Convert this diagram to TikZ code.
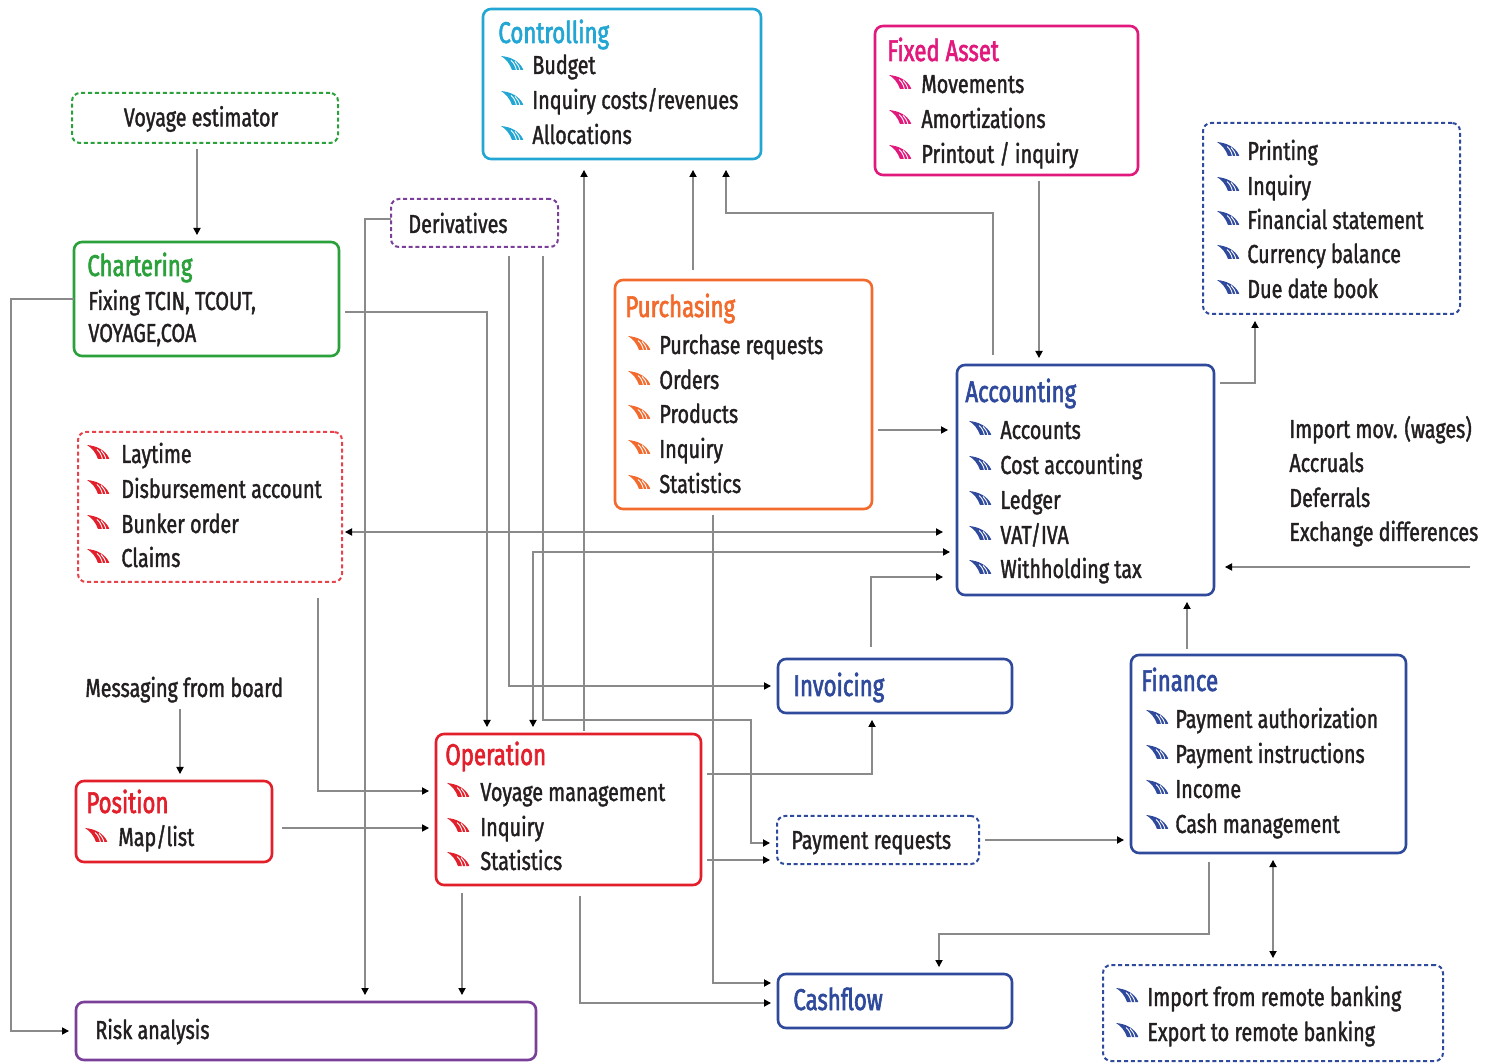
\documentclass[tikz,border=0pt]{standalone}
\usepackage{fontspec}
\setmainfont{Fira Sans}[FakeStretch=0.76, FakeBold=1.4]
\newfontfamily\ttlfont{Fira Sans}[FakeStretch=0.74, FakeBold=2]
\usetikzlibrary{arrows.meta,calc}
\definecolor{txt}{HTML}{231F20}
\definecolor{lineC}{HTML}{8A8A8A}
\definecolor{cyanC}{HTML}{22A6D3}
\definecolor{magC}{HTML}{E2197C}
\definecolor{blueC}{HTML}{2F4A9C}
\definecolor{orgC}{HTML}{F26A2C}
\definecolor{redC}{HTML}{E21F2A}
\definecolor{grnC}{HTML}{2AA13A}
\definecolor{purC}{HTML}{7A3F98}
\definecolor{lredC}{HTML}{E8434A}
\newcommand\mkbox[6]{\node[#6, minimum width={(#4-#2)*0.5pt}, minimum height={(#5-#3)*0.5pt}] (#1) at ({(#2+#4)/2},{(#3+#5)/2}) {};}
\tikzset{chev/.pic={
  \fill[pic actions] (-11,-7) .. controls (-1,-6) and (7,-2) .. (11,6)
     -- (11,7) -- (0,7) .. controls (-2,1) and (-6,-4) .. cycle;
  \draw[white, line width=0.45pt] (4.5,7.5) .. controls (3.5,3) and (2,0) .. (-1,-2.5);
  \draw[white, line width=0.45pt] (8,7.5) .. controls (7,3.5) and (5.5,1) .. (3,-1.5);
}}
\begin{document}
\begin{tikzpicture}[x=0.5pt,y=-0.5pt,
  box/.style={draw, fill=white, line width=1.3pt, rounded corners=4pt, inner sep=0pt, outer sep=0pt},
  dbox/.style={draw, fill=white, line width=1pt, rounded corners=4pt, dash pattern=on 2pt off 1.4pt, inner sep=0pt, outer sep=0pt},
  item/.style={anchor=base west, inner sep=0pt, font=\fontsize{13}{15}\selectfont, text=txt},
  ttl/.style={anchor=base west, inner sep=0pt, font=\ttlfont\fontsize{15}{18}\selectfont},
  conn/.style={draw=lineC, line width=0.6pt, -{Triangle[length=3.5pt,width=3.6pt,color=black]}, shorten >=3.5pt, shorten <=3pt},
  conn2/.style={draw=lineC, line width=0.6pt, {Triangle[length=3.5pt,width=3.6pt,color=black]}-{Triangle[length=3.5pt,width=3.6pt,color=black]}, shorten >=3.5pt, shorten <=3.5pt},
]
\useasboundingbox[fill=white] (0,0) rectangle (1495,1063);

% ---------- boxes ----------
\mkbox{ctrl}{483}{9}{761}{159}{box, draw=cyanC}
\mkbox{fixed}{875}{26}{1138}{175}{box, draw=magC}
\mkbox{voy}{72}{93}{338}{143}{dbox, draw=grnC}
\mkbox{prn}{1203}{123}{1460}{314}{dbox, draw=blueC}
\mkbox{deriv}{391}{199}{558}{247}{dbox, draw=purC}
\mkbox{chart}{74}{242}{339}{356}{box, draw=grnC}
\mkbox{purch}{615}{280}{872}{509}{box, draw=orgC}
\mkbox{acct}{957}{365}{1214}{595}{box, draw=blueC}
\mkbox{lay}{78}{432}{342}{582}{dbox, draw=lredC}
\mkbox{inv}{778}{659}{1012}{713}{box, draw=blueC}
\mkbox{fin}{1131}{655}{1406}{853}{box, draw=blueC}
\mkbox{pos}{76}{781}{272}{862}{box, draw=redC}
\mkbox{oper}{436}{734}{701}{885}{box, draw=redC}
\mkbox{payreq}{777}{816}{979}{864}{dbox, draw=blueC}
\mkbox{cash}{778}{974}{1012}{1028}{box, draw=blueC}
\mkbox{bank}{1103}{965}{1443}{1061}{dbox, draw=blueC}
\mkbox{risk}{76}{1002}{536}{1060}{box, draw=purC}

% ---------- texts ----------
\node[ttl, text=cyanC] (ctrlT) at (498,43) {Controlling};
\foreach \t/\y [count=\i] in {{Budget}/65, {Inquiry costs/revenues}/100, {Allocations}/135}{
  \pic[fill=cyanC] at (512,\y-2) {chev};
  \node[item] (ctrl\i) at (532,\y+9) {\t};}

\node[ttl, text=magC] (fixedT) at (887,61) {Fixed Asset};
\foreach \t/\y [count=\i] in {{Movements}/84, {Amortizations}/119, {Printout / inquiry}/154}{
  \pic[fill=magC] at (900,\y-2) {chev};
  \node[item] (fixed\i) at (921,\y+9) {\t};}

\node[item, anchor=center] (voyT) at (201,119) {Voyage estimator};

\foreach \t/\y [count=\i] in {{Printing}/151, {Inquiry}/186, {Financial statement}/220, {Currency balance}/254, {Due date book}/289}{
  \pic[fill=blueC] at (1228,\y-2) {chev};
  \node[item] (prn\i) at (1247,\y+9) {\t};}

\node[item] (derivT) at (408,233) {Derivatives};

\node[ttl, text=grnC] (chartT) at (87,276) {Chartering};
\node[item] (chart1) at (88,310) {Fixing TCIN, TCOUT,};
\node[item] (chart2) at (88,342) {VOYAGE,COA};

\node[ttl, text=orgC] (purchT) at (625,317) {Purchasing};
\foreach \t/\y [count=\i] in {{Purchase requests}/345, {Orders}/380, {Products}/414, {Inquiry}/449, {Statistics}/484}{
  \pic[fill=orgC] at (639,\y-2) {chev};
  \node[item] (purch\i) at (659,\y+9) {\t};}

\node[ttl, text=blueC] (acctT) at (965,402) {Accounting};
\foreach \t/\y [count=\i] in {{Accounts}/430, {Cost accounting}/465, {Ledger}/500, {VAT/IVA}/535, {Withholding tax}/569}{
  \pic[fill=blueC] at (980,\y-2) {chev};
  \node[item] (acct\i) at (1000,\y+9) {\t};}

\foreach \t/\y [count=\i] in {{Laytime}/454, {Disbursement account}/489, {Bunker order}/524, {Claims}/558}{
  \pic[fill=redC] at (98,\y-2) {chev};
  \node[item] (lay\i) at (121,\y+9) {\t};}

\foreach \t/\y [count=\i] in {{Import mov. (wages)}/429, {Accruals}/463, {Deferrals}/498, {Exchange differences}/532}{
  \node[item] (imp\i) at (1289,\y+9) {\t};}

\node[ttl, text=blueC] (invT) at (793,696) {Invoicing};

\node[ttl, text=blueC] (finT) at (1141,691) {Finance};
\foreach \t/\y [count=\i] in {{Payment authorization}/719, {Payment instructions}/754, {Income}/789, {Cash management}/824}{
  \pic[fill=blueC] at (1157,\y-2) {chev};
  \node[item] (fin\i) at (1175,\y+9) {\t};}

\node[item] (msg) at (85,697) {Messaging from board};

\node[ttl, text=redC] (posT) at (86,813) {Position};
\pic[fill=redC] at (96,835) {chev};
\node[item] (pos1) at (118,846) {Map/list};

\node[ttl, text=redC] (operT) at (445,765) {Operation};
\foreach \t/\y [count=\i] in {{Voyage management}/792, {Inquiry}/827, {Statistics}/861}{
  \pic[fill=redC] at (458,\y-2) {chev};
  \node[item] (oper\i) at (480,\y+9) {\t};}

\node[item] (payreqT) at (791,849) {Payment requests};
\node[ttl, text=blueC] (cashT) at (793,1010) {Cashflow};

\foreach \t/\y [count=\i] in {{Import from remote banking}/997, {Export to remote banking}/1032}{
  \pic[fill=blueC] at (1127,\y-2) {chev};
  \node[item] (bank\i) at (1147,\y+9) {\t};}

\node[item] (riskT) at (95,1039) {Risk analysis};

% ---------- bend coordinates ----------
\coordinate (c197) at (197,0);
\coordinate (k15) at (11,299);
\coordinate (k1) at (487,312);
\coordinate (k2) at (365,219);
\coordinate (k3) at (509,686);
\coordinate (k4a) at (543,720);
\coordinate (k4b) at (751,720);
\coordinate (k4c) at (751,843);
\coordinate (k5) at (533,552);
\coordinate (c584) at (584,0);
\coordinate (c693) at (693,0);
\coordinate (k7a) at (993,213);
\coordinate (k7b) at (726,213);
\coordinate (c1039) at (1039,0);
\coordinate (k8) at (1255,383);
\coordinate (impS) at (1470,567);
\coordinate (r430) at (0,430);
\coordinate (r532) at (0,532);
\coordinate (k9) at (871,577);
\coordinate (k10) at (872,774);
\coordinate (c1187) at (1187,0);
\coordinate (r840) at (0,840);
\coordinate (r860) at (0,860);
\coordinate (k11a) at (1209,934);
\coordinate (k11b) at (939,934);
\coordinate (c1273) at (1273,0);
\coordinate (c462) at (462,0);
\coordinate (k12) at (580,1003);
\coordinate (k13) at (713,983);
\coordinate (k14) at (318,791);
\coordinate (r828) at (0,828);
\coordinate (c180) at (180,0);

% ---------- connectors ----------
\draw[conn] (voy.south -| c197) -- (chart.north -| c197);
\draw[conn, shorten <=0pt] (chart.west |- k15) -- (k15) -- (k15 |- risk.west) -- (risk.west);
\draw[conn] (chart.east |- k1) -- (k1) -- (oper.north -| k1);
\draw[conn, shorten <=0pt] (deriv.west |- k2) -- (k2) -- (risk.north -| k2);
\draw[conn, shorten <=4.5pt] (deriv.south -| k3) -- (k3) -- (inv.west |- k3);
\draw[conn, shorten <=4.5pt] (deriv.south -| k4a) -- (k4a) -- (k4b) -- (k4c) -- (payreq.west |- k4c);
\draw[conn2] (oper.north -| k5) -- (k5) -- (acct.west |- k5);
\draw[conn, shorten <=1.5pt, shorten >=5.5pt] (oper.north -| c584) -- (ctrl.south -| c584);
\draw[conn, shorten <=5pt, shorten >=5.5pt] (purch.north -| c693) -- (ctrl.south -| c693);
\draw[conn, shorten <=5pt, shorten >=5.5pt] (acct.north -| k7a) -- (k7a) -- (k7b) -- (ctrl.south -| k7b);
\draw[conn] (fixed.south -| c1039) -- (acct.north -| c1039);
\draw[conn] (acct.east |- k8) -- (k8) -- (prn.south -| k8);
\draw[conn, shorten <=0pt, shorten >=5.5pt] (impS) -- (acct.east |- impS);
\draw[conn, shorten >=4.5pt] (purch.east |- r430) -- (acct.west |- r430);
\draw[conn2, shorten <=1.5pt, shorten >=7pt] (lay.east |- r532) -- (acct.west |- r532);
\draw[conn, shorten <=6pt, shorten >=7pt] (inv.north -| k9) -- (k9) -- (acct.west |- k9);
\draw[conn] (oper.east |- k10) -- (k10) -- (inv.south -| k10);
\draw[conn] (fin.north -| c1187) -- (acct.south -| c1187);
\draw[conn] (payreq.east |- r840) -- (fin.west |- r840);
\draw[conn] (oper.east |- r860) -- (payreq.west |- r860);
\draw[conn, shorten <=4.5pt] (fin.south -| k11a) -- (k11a) -- (k11b) -- (cash.north -| k11b);
\draw[conn2] (fin.south -| c1273) -- (bank.north -| c1273);
\draw[conn, shorten <=4pt] (oper.south -| c462) -- (risk.north -| c462);
\draw[conn, shorten <=5.5pt] (oper.south -| k12) -- (k12) -- (cash.west |- k12);
\draw[conn] (purch.south -| k13) -- (k13) -- (cash.west |- k13);
\draw[conn, shorten <=8pt] (lay.south -| k14) -- (k14) -- (oper.west |- k14);
\draw[conn, shorten <=5pt] (pos.east |- r828) -- (oper.west |- r828);
\draw[conn] (msg.south -| c180) -- (pos.north -| c180);
\end{tikzpicture}
\end{document}
